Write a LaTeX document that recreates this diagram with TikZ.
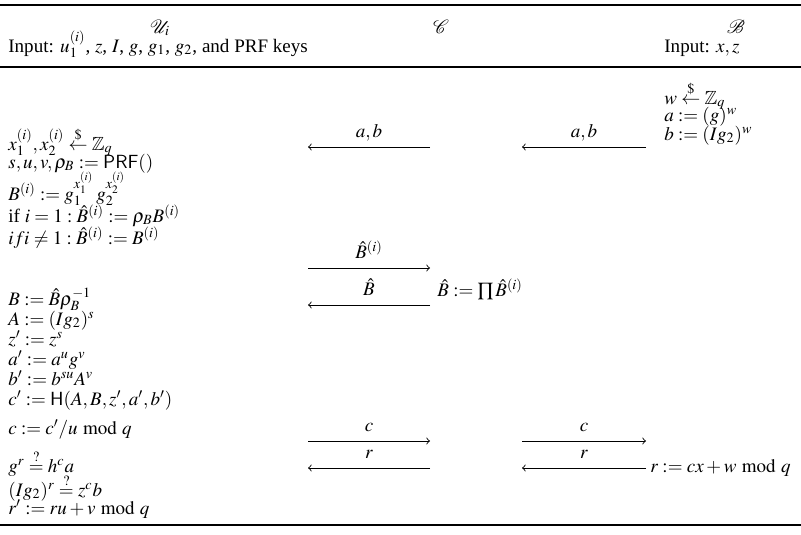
\documentclass[tikz,border=0pt]{standalone}
\usepackage{amsmath,amssymb}
\usepackage{mathptmx}
\usepackage{fontspec}
\setmainfont{Liberation Serif}
\setsansfont{Liberation Sans}
\begin{document}
\begin{tikzpicture}[x=0.525pt,y=-0.525pt,
  txt/.style={inner sep=0pt,anchor=base west},
  hdr/.style={inner sep=0pt,anchor=base},
  msg/.style={->,line width=0.45pt},
  lbl/.style={midway,inner sep=0pt,anchor=base,yshift=4.9pt},
  heavy/.style={line width=1pt},
  light/.style={line width=0.65pt}]
\useasboundingbox (0,0) rectangle (801,534);
% rules
\coordinate (t0) at (0,5);   \coordinate (t1) at (801,5);
\coordinate (m0) at (0,67);  \coordinate (m1) at (801,67);
\coordinate (b0) at (0,525); \coordinate (b1) at (801,525);
\draw[heavy] (t0) -- (t1);
\draw[light] (m0) -- (m1);
\draw[heavy] (b0) -- (b1);
% headers
\node[hdr] (hU) at (160,33) {$\mathcal{U}_i$};
\node[hdr] (hC) at (441,33) {$\mathcal{C}$};
\node[hdr] (hB) at (736,33) {$\mathcal{B}$};
\node[txt] (inU) at (8,52) {Input: $u_1^{(i)}$, $z$, $I$, $g$, $g_1$, $g_2$, and PRF keys};
\node[txt] (inB) at (664,52) {Input: $x,z$};
% B column
\node[txt] (b1) at (664,104) {$w \overset{\$}{\leftarrow} \mathbb{Z}_q$};
\node[txt] (b2) at (664,121) {$a := (g)^w$};
\node[txt] (b3) at (664,140) {$b := (Ig_2)^w$};
\node[txt] (b4) at (650,472) {$r := cx + w \bmod q$};
% C column
\node[txt] (c1) at (437,296) {$\hat{B} := \prod \hat{B}^{(i)}$};
% U column
\node[txt] (u1) at (8,150) {$x_1^{(i)},x_2^{(i)} \overset{\$}{\leftarrow} \mathbb{Z}_q$};
\node[txt] (u2) at (8,168) {$s,u,v,\rho_B := \mathsf{PRF}()$};
\node[txt] (u3) at (8,200) {$B^{(i)} := g_1^{x_1^{(i)}}\, g_2^{x_2^{(i)}}$};
\node[txt] (u4) at (8,222) {if $i = 1 : \hat{B}^{(i)} := \rho_B B^{(i)}$};
\node[txt] (u5) at (8,244) {$ifi \neq 1 : \hat{B}^{(i)} := B^{(i)}$};
\node[txt] (u6) at (8,305) {$B := \hat{B}\rho_B^{-1}$};
\node[txt] (u7) at (8,325) {$A := (Ig_2)^s$};
\node[txt] (u8) at (8,345) {$z' := z^s$};
\node[txt] (u9) at (8,365) {$a' := a^u g^v$};
\node[txt] (u10) at (8,385) {$b' := b^{su} A^v$};
\node[txt] (u11) at (8,405) {$c' := \mathsf{H}(A,B,z',a',b')$};
\node[txt] (u12) at (8,434) {$c := c'/u \bmod q$};
\node[txt] (u13) at (8,472) {$g^r \overset{?}{=} h^c a$};
\node[txt] (u14) at (8,496) {$(Ig_2)^r \overset{?}{=} z^c b$};
\node[txt] (u15) at (8,514) {$r' := ru + v \bmod q$};
% message arrows
\coordinate (ab1s) at (430,147); \coordinate (ab1e) at (308,147);
\coordinate (ab2s) at (646,147); \coordinate (ab2e) at (522,147);
\draw[msg] (ab1s) -- (ab1e) node[lbl] (lab1) {$a,b$};
\draw[msg] (ab2s) -- (ab2e) node[lbl] (lab2) {$a,b$};
\coordinate (bis) at (308,268); \coordinate (bie) at (430,268);
\draw[msg] (bis) -- (bie) node[lbl] (lbi) {$\hat{B}^{(i)}$};
\coordinate (bhs) at (430,305); \coordinate (bhe) at (308,305);
\draw[msg] (bhs) -- (bhe) node[lbl] (lbh) {$\hat{B}$};
\coordinate (c1s) at (308,441); \coordinate (c1e) at (430,441);
\draw[msg] (c1s) -- (c1e) node[lbl] (lc1) {$c$};
\coordinate (c2s) at (522,441); \coordinate (c2e) at (646,441);
\draw[msg] (c2s) -- (c2e) node[lbl] (lc2) {$c$};
\coordinate (r1s) at (430,468); \coordinate (r1e) at (308,468);
\draw[msg] (r1s) -- (r1e) node[lbl] (lr1) {$r$};
\coordinate (r2s) at (646,468); \coordinate (r2e) at (522,468);
\draw[msg] (r2s) -- (r2e) node[lbl] (lr2) {$r$};
\end{tikzpicture}
\end{document}
